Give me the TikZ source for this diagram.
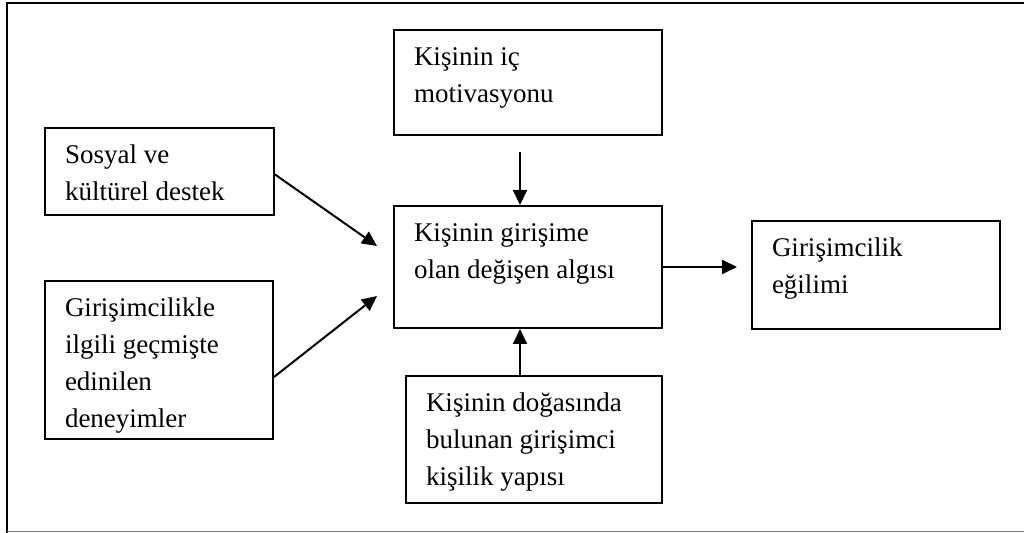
\documentclass[tikz,border=0pt]{standalone}
\usepackage{fontspec}
\setmainfont{Liberation Serif}
\usetikzlibrary{arrows.meta}
\tikzset{
  kutu/.style={draw,line width=1pt,anchor=north west,inner xsep=10pt,inner ysep=5pt,font=\fontsize{13.5}{18.5}\selectfont},
  ok/.style={-{Triangle[length=7.5pt,width=7pt]},line width=1pt}
}
\newcommand{\kutumetin}[3]{\parbox[c][#2][t]{#1}{\strut #3}}
\begin{document}
\begin{tikzpicture}[x=0.5pt,y=-0.5pt]
        \useasboundingbox (0,0) rectangle (1024,533);
        \draw[line width=1pt] (6.5,533) -- (6.5,3.5) -- (1024,3.5); %çerçeve
        \draw[gray] (6.5,531) -- (1024,531);
        \node[kutu] (ic) at (393,29) {\kutumetin{114pt}{42.5pt}{Kişinin iç\\motivasyonu}};
        \node[kutu] (algi) at (393,205) {\kutumetin{114pt}{51pt}{Kişinin girişime\\olan değişen algısı}};
        \node[kutu] (sosyal) at (44,127) {\kutumetin{94.5pt}{33.5pt}{Sosyal ve\\kültürel destek}};
        \node[kutu] (gecmis) at (44,280) {\kutumetin{94pt}{69pt}{Girişimcilikle\\ilgili geçmişte\\edinilen\\deneyimler}};
        \node[kutu] (doga) at (405,375) {\kutumetin{108pt}{53.5pt}{Kişinin doğasında\\bulunan girişimci\\kişilik yapısı}};
        \node[kutu] (egilim) at (751,220) {\kutumetin{104pt}{44pt}{Girişimcilik\\eğilimi}};
        \draw[ok] ([yshift=-1.5pt]sosyal.east) -- ([shift={(-8pt,10.5pt)}]algi.west); %sol üst
        \draw[ok] ([yshift=-8.5pt]gecmis.east) -- ([shift={(-8pt,-14.5pt)}]algi.west); %sol alt
        \draw[ok] ([shift={(-4pt,-8pt)}]ic.south) -- ([xshift=-4pt]algi.north); %üst
        \draw[ok] ([xshift=-7pt]doga.north) -- ([xshift=-7pt]doga.north |- algi.south); %alt
        \draw[ok] (algi.east) -- ([xshift=-7pt]algi.east -| egilim.west); %sağ
    \end{tikzpicture}
\end{document}
